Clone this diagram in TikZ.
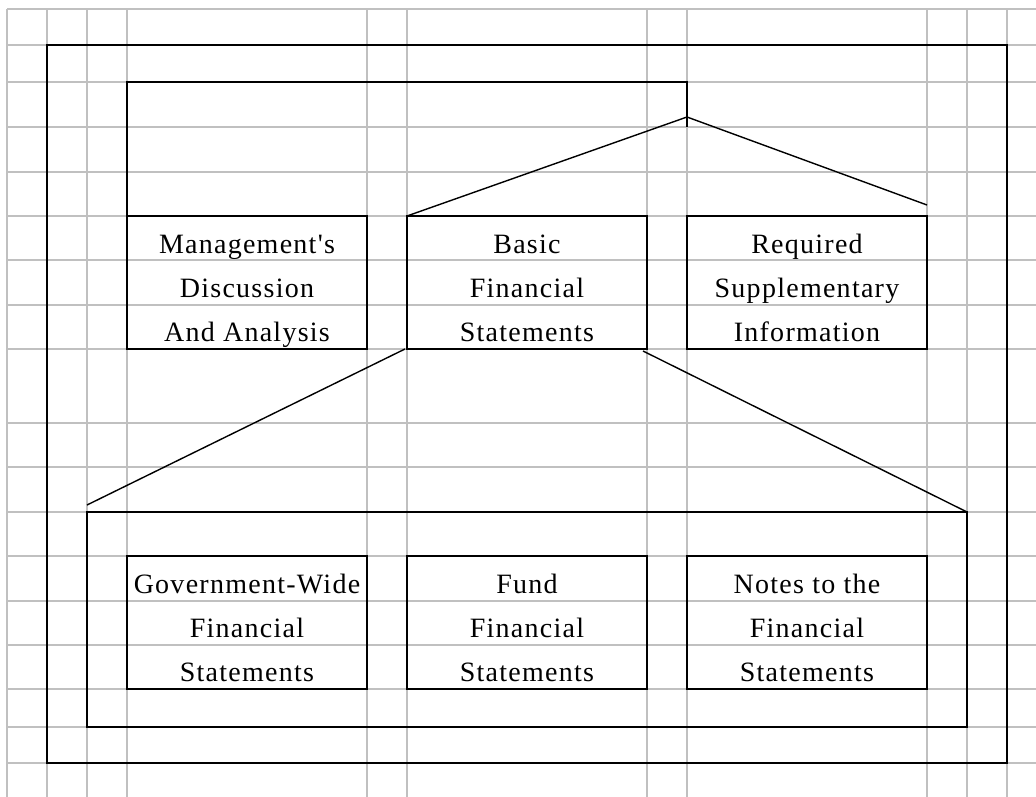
\documentclass[tikz,border=0pt]{standalone}
\usepackage{fontspec}
\setmainfont{Liberation Serif}[LetterSpace=4.5, Ligatures=TeXOff]
\usetikzlibrary{calc}
\definecolor{gridgray}{RGB}{192,192,192}
\begin{document}
\begin{tikzpicture}[x=1pt,y=-1pt,
  gridline/.style={draw=gridgray, line width=1.5pt},
  frame/.style={draw=black, line width=2.2pt},
  cell/.style={draw=black, line width=1.6pt, minimum width=240pt, minimum height=133pt, inner sep=0pt, outer sep=0pt},
  bigbox/.style={draw=black, line width=2.2pt, inner sep=0pt, outer sep=0pt},
  txt/.style={anchor=base, inner sep=0pt, font=\fontsize{28}{28}\selectfont},
  link/.style={draw=black, line width=1.4pt}]
\useasboundingbox (0,0) rectangle (1036,797);
\fill[white] (0,0) rectangle (1036,797);
% spreadsheet grid
\foreach \x in {7,47,87,127,367,407,647,687,927,967,1007}
  \draw[gridline] (\x,9) -- (\x,797);
\foreach \y in {9,45,82,127,172,216,260,305,349,423,467,512,556,601,645,689,727,763}
  \draw[gridline] (7,\y) -- (1036,\y);
% outer and middle frames
\node[bigbox, minimum width=960pt, minimum height=718pt] (outer) at (527,404) {};
\node[bigbox, minimum width=880pt, minimum height=215pt] (mid) at (527,619.5) {};
% top boxes
\node[cell] (mda) at (247,282.5) {};
\node[cell] (bfs) at (527,282.5) {};
\node[cell] (rsi) at (807,282.5) {};
% bottom boxes
\node[cell] (gwf) at (247,622.5) {};
\node[cell] (fff) at (527,622.5) {};
\node[cell] (ntf) at (807,622.5) {};
% texts
\node[txt] (mda1) at ($(mda.north)+(0,37)$) {Management's};
\node[txt] (mda2) at ($(mda.north)+(0,81)$) {Discussion};
\node[txt] (mda3) at ($(mda.north)+(0,125)$) {And Analysis};
\node[txt] (bfs1) at ($(bfs.north)+(0,37)$) {Basic};
\node[txt] (bfs2) at ($(bfs.north)+(0,81)$) {Financial};
\node[txt] (bfs3) at ($(bfs.north)+(0,125)$) {Statements};
\node[txt] (rsi1) at ($(rsi.north)+(0,37)$) {Required};
\node[txt] (rsi2) at ($(rsi.north)+(0,81)$) {Supplementary};
\node[txt] (rsi3) at ($(rsi.north)+(0,125)$) {Information};
\node[txt] (gwf1) at ($(gwf.north)+(0,37)$) {Government-Wide};
\node[txt] (gwf2) at ($(gwf.north)+(0,81)$) {Financial};
\node[txt] (gwf3) at ($(gwf.north)+(0,125)$) {Statements};
\node[txt] (fff1) at ($(fff.north)+(0,37)$) {Fund};
\node[txt] (fff2) at ($(fff.north)+(0,81)$) {Financial};
\node[txt] (fff3) at ($(fff.north)+(0,125)$) {Statements};
\node[txt] (ntf1) at ($(ntf.north)+(0,37)$) {Notes to the};
\node[txt] (ntf2) at ($(ntf.north)+(0,81)$) {Financial};
\node[txt] (ntf3) at ($(ntf.north)+(0,125)$) {Statements};
% connectors
\coordinate (brk) at (687,82);
\coordinate (brkend) at (687,127);
\coordinate (apex) at (687,117);
\coordinate (rsiend) at (927,205);
\coordinate (lowL) at (87,505);
\draw[frame] (mda.north west) |- (brk) -- (brkend);
\draw[link] (bfs.north west) -- (apex) -- (rsiend);
\draw[link] (lowL) -- ($(bfs.south west)+(-2,0)$);
\draw[link] ($(bfs.south east)+(-4,2)$) -- (mid.north east);
\end{tikzpicture}
\end{document}
